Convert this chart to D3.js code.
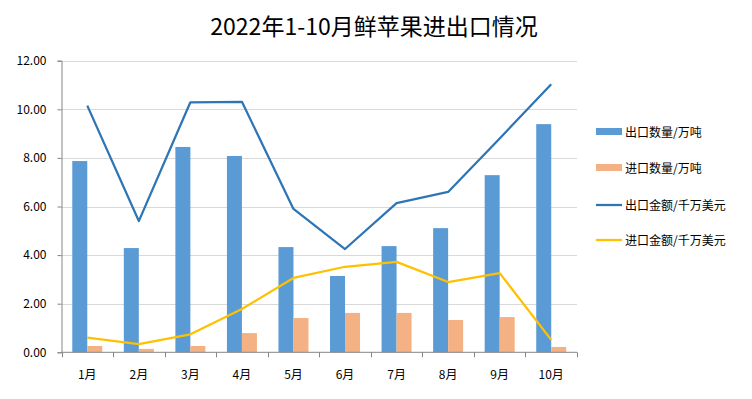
<!DOCTYPE html>
<html>
<head>
<meta charset="utf-8">
<script src="https://cdn.jsdelivr.net/npm/d3@7"></script>
<style>
  body { margin: 0; background: #fff; }
  text { font-family: "Noto Sans CJK SC", "Noto Sans", sans-serif; }
</style>
</head>
<body>
<svg id="chart" width="752" height="399"></svg>
<script>
// data
const months = ["1月", "2月", "3月", "4月", "5月", "6月", "7月", "8月", "9月", "10月"];
const exportQty = [7.87, 4.29, 8.45, 8.08, 4.33, 3.14, 4.37, 5.11, 7.29, 9.39];
const importQty = [0.26, 0.14, 0.26, 0.79, 1.41, 1.62, 1.62, 1.33, 1.45, 0.22];
const exportVal = [10.15, 5.40, 10.29, 10.31, 5.90, 4.25, 6.14, 6.60, 8.80, 11.03];
const importVal = [0.60, 0.34, 0.74, 1.78, 3.06, 3.52, 3.72, 2.89, 3.26, 0.51];
const yTicks = [0, 2, 4, 6, 8, 10, 12];
const seriesNames = ["出口数量/万吨", "进口数量/万吨", "出口金额/千万美元", "进口金额/千万美元"];

const colors = {
    exportBar: "#5b9bd5",
    importBar: "#f4b183",
    exportLine: "#2e75b6",
    importLine: "#ffc000"
};

const plotL = 61.5, plotR = 577, plotT = 60.7, plotB = 352.3;
const svg = d3.select("#chart");

const x = d3.scaleBand().domain(months).range([plotL, plotR]);
const y = d3.scaleLinear().domain([0, 12]).range([plotB, plotT]);
const barW = 15;

// title
svg.append("text")
    .attr("x", 374).attr("y", 35)
    .attr("text-anchor", "middle")
    .attr("font-size", 23)
    .attr("fill", "#000")
    .text("2022年1-10月鲜苹果进出口情况");

// gridlines
svg.append("g")
    .selectAll("line")
    .data(yTicks.filter(d => d > 0))
    .join("line")
    .attr("x1", plotL).attr("x2", plotR)
    .attr("y1", d => Math.round(y(d)) + 0.5)
    .attr("y2", d => Math.round(y(d)) + 0.5)
    .attr("stroke", "#d9d9d9");

// y axis
const yAxis = svg.append("g")
    .attr("transform", `translate(${plotL},0)`)
    .call(d3.axisLeft(y).tickValues(yTicks).tickFormat(d3.format(".2f")).tickSize(4).tickPadding(11));
yAxis.select(".domain").attr("stroke", "#868686");
yAxis.selectAll(".tick line").attr("stroke", "#868686");
yAxis.selectAll(".tick text")
    .attr("font-family", "'Noto Sans', sans-serif")
    .attr("font-size", 12)
    .attr("fill", "#000");

// bars
svg.append("g").selectAll("rect")
    .data(months)
    .join("rect")
    .attr("x", d => x(d) + x.bandwidth() / 2 - barW)
    .attr("y", (d, i) => y(exportQty[i]))
    .attr("width", barW)
    .attr("height", (d, i) => y(0) - y(exportQty[i]))
    .attr("fill", colors.exportBar);

svg.append("g").selectAll("rect")
    .data(months)
    .join("rect")
    .attr("x", d => x(d) + x.bandwidth() / 2)
    .attr("y", (d, i) => y(importQty[i]))
    .attr("width", barW)
    .attr("height", (d, i) => y(0) - y(importQty[i]))
    .attr("fill", colors.importBar);

// x axis
const xAxisG = svg.append("g").attr("transform", `translate(0,${plotB})`);
xAxisG.append("line")
    .attr("x1", plotL).attr("x2", plotR)
    .attr("stroke", "#868686");
xAxisG.selectAll("line.tk")
    .data(months.concat(["end"]))
    .join("line")
    .attr("class", "tk")
    .attr("x1", (d, i) => Math.round(plotL + i * x.step()) + 0.5)
    .attr("x2", (d, i) => Math.round(plotL + i * x.step()) + 0.5)
    .attr("y1", 0).attr("y2", 5)
    .attr("stroke", "#868686");
xAxisG.selectAll("text")
    .data(months)
    .join("text")
    .attr("x", d => x(d) + x.bandwidth() / 2)
    .attr("y", 27)
    .attr("text-anchor", "middle")
    .attr("font-size", 12)
    .attr("fill", "#000")
    .text(d => d);

// lines
const line = d3.line()
    .x((d, i) => x(months[i]) + x.bandwidth() / 2)
    .y(d => y(d));

svg.append("path")
    .datum(importVal)
    .attr("d", line)
    .attr("fill", "none")
    .attr("stroke", colors.importLine)
    .attr("stroke-width", 2.25)
    .attr("stroke-linejoin", "round");

svg.append("path")
    .datum(exportVal)
    .attr("d", line)
    .attr("fill", "none")
    .attr("stroke", colors.exportLine)
    .attr("stroke-width", 2.25)
    .attr("stroke-linejoin", "round");

// legend
const legendY = [132, 168, 205, 240];
const legendColors = [colors.exportBar, colors.importBar, colors.exportLine, colors.importLine];
const legend = svg.append("g");
seriesNames.forEach((name, i) => {
    const g = legend.append("g").attr("transform", `translate(596,${legendY[i]})`);
    if (i < 2) {
        g.append("rect")
            .attr("x", 0).attr("y", -4)
            .attr("width", 26).attr("height", 7)
            .attr("fill", legendColors[i]);
    } else {
        g.append("line")
            .attr("x1", 0).attr("x2", 26)
            .attr("y1", 0).attr("y2", 0)
            .attr("stroke", legendColors[i])
            .attr("stroke-width", 2.25);
    }
    g.append("text")
        .attr("x", 29).attr("y", 4.5)
        .attr("font-size", 12)
        .attr("fill", "#000")
        .text(name);
});
</script>
</body>
</html>
